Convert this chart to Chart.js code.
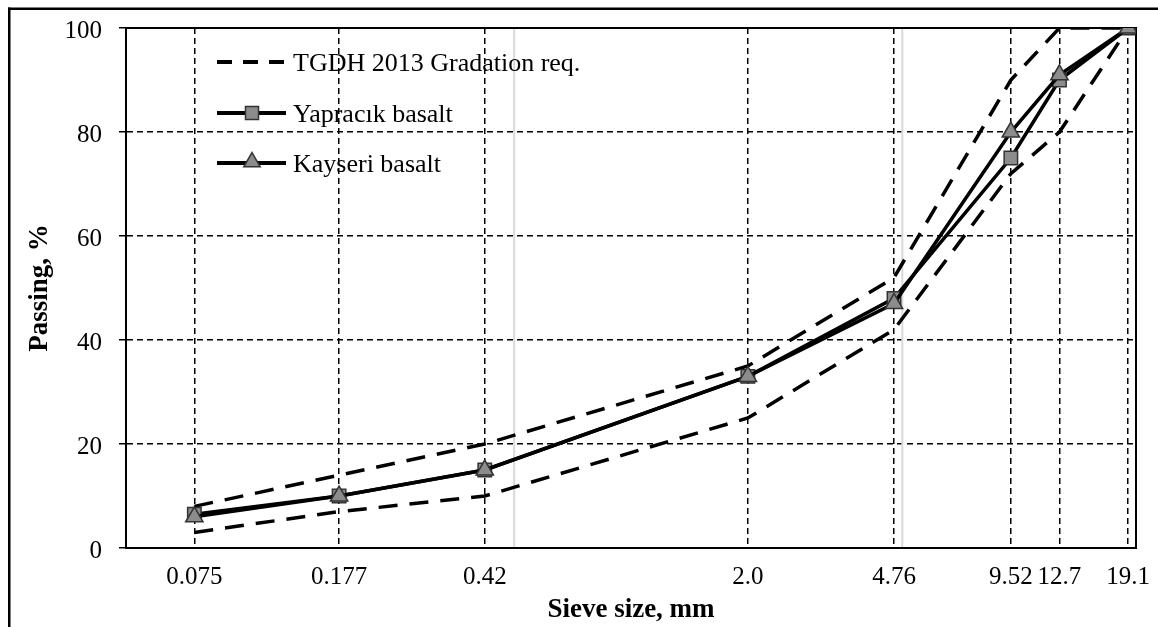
<!DOCTYPE html>
<html>
<head>
<meta charset="utf-8">
<script src="https://cdn.jsdelivr.net/npm/chart.js@4/dist/chart.umd.min.js"></script>
<style>
  html, body { margin: 0; padding: 0; background: #fff; }
  #wrap { width: 1158px; height: 627px; position: relative; }
</style>
</head>
<body>
<div id="wrap"><canvas id="c" width="1158" height="627"></canvas></div>
<script>
// ---- data ----
const sieveSizes  = [0.075, 0.177, 0.42, 2.0, 4.76, 9.52, 12.7, 19.1];
const sieveLabels = ['0.075', '0.177', '0.42', '2.0', '4.76', '9.52', '12.7', '19.1'];
const specUpper   = [8, 14, 20, 35, 52, 90, 100, 100];
const specLower   = [3, 7, 10, 25, 42, 72, 80, 100];
const yapracik    = [6.5, 10, 15, 33, 48, 75, 90, 100];
const kayseri     = [6, 10, 15, 33, 47, 80, 91, 100];
const grayLines   = [0.5, 5];
const legendNames = ['TGDH 2013 Gradation req.', 'Yapracık basalt', 'Kayseri basalt'];

const FONT = "'Liberation Serif', 'Times New Roman', serif";
const MARK_FILL = '#8c8c8c';
const MARK_EDGE = '#333333';

const toXY = arr => arr.map((v, i) => ({ x: sieveSizes[i], y: v }));

function drawSquare(ctx, x, y, s) {
  ctx.beginPath();
  ctx.rect(x - s / 2, y - s / 2, s, s);
  ctx.fillStyle = MARK_FILL; ctx.fill();
  ctx.lineWidth = 1.5; ctx.strokeStyle = MARK_EDGE; ctx.stroke();
}
function drawTriangle(ctx, x, y, r) {
  ctx.beginPath();
  for (let k = 0; k < 3; k++) {
    const a = -Math.PI / 2 + k * 2 * Math.PI / 3;
    const px = x + Math.cos(a) * r, py = y + Math.sin(a) * r;
    if (k === 0) ctx.moveTo(px, py); else ctx.lineTo(px, py);
  }
  ctx.closePath();
  ctx.fillStyle = MARK_FILL; ctx.fill();
  ctx.lineWidth = 1.5; ctx.strokeStyle = MARK_EDGE; ctx.stroke();
}

const decor = {
  id: 'decor',
  beforeDatasetsDraw(chart) {
    const { ctx, chartArea: a, scales } = chart;
    ctx.save();
    ctx.strokeStyle = '#d9d9d9';
    ctx.lineWidth = 2;
    grayLines.forEach(v => {
      const px = scales.x.getPixelForValue(v);
      ctx.beginPath(); ctx.moveTo(px, a.top); ctx.lineTo(px, a.bottom); ctx.stroke();
    });
    ctx.strokeStyle = '#000';
    ctx.lineWidth = 2;
    ctx.strokeRect(a.left, a.top, a.right - a.left, a.bottom - a.top);
    ctx.restore();
  },
  afterDraw(chart) {
    const { ctx } = chart;
    ctx.save();
    ctx.fillStyle = '#000';
    ctx.fillRect(8, 7.5, 1150, 2.5);
    ctx.fillRect(8, 7.5, 2.5, 620);
    const x0 = 217, x1 = 286, tx = 293;
    const ys = [62, 113, 163];
    ctx.strokeStyle = '#000';
    ctx.lineWidth = 4;
    ctx.lineCap = 'butt';
    ys.forEach((y, i) => {
      ctx.setLineDash(i === 0 ? [15, 11] : []);
      ctx.beginPath(); ctx.moveTo(x0, y); ctx.lineTo(x1, y); ctx.stroke();
    });
    ctx.setLineDash([]);
    drawSquare(ctx, 252, ys[1], 13);
    drawTriangle(ctx, 252, ys[2] - 1, 9.5);
    ctx.fillStyle = '#000';
    ctx.font = '26px ' + FONT;
    ctx.textBaseline = 'middle';
    ctx.textAlign = 'left';
    legendNames.forEach((t, i) => ctx.fillText(t, tx, ys[i] + 2));
    ctx.restore();
  }
};

new Chart(document.getElementById('c'), {
  type: 'line',
  data: {
    datasets: [
      { label: legendNames[0] + ' upper', data: toXY(specUpper), borderColor: '#000', borderWidth: 3.5,
        borderDash: [19, 12], pointRadius: 0, fill: false, tension: 0, order: 3 },
      { label: legendNames[0] + ' lower', data: toXY(specLower), borderColor: '#000', borderWidth: 3.5,
        borderDash: [19, 12], pointRadius: 0, fill: false, tension: 0, order: 3 },
      { label: legendNames[1], data: toXY(yapracik), borderColor: '#000', borderWidth: 3.5,
        pointStyle: 'rect', pointRadius: 9.5, pointBackgroundColor: MARK_FILL,
        pointBorderColor: MARK_EDGE, pointBorderWidth: 1.5, fill: false, tension: 0, order: 2 },
      { label: legendNames[2], data: toXY(kayseri), borderColor: '#000', borderWidth: 3.5,
        pointStyle: 'triangle', pointRadius: 10, pointBackgroundColor: MARK_FILL,
        pointBorderColor: MARK_EDGE, pointBorderWidth: 1.5, fill: false, tension: 0, order: 1 }
    ]
  },
  options: {
    responsive: false,
    animation: false,
    devicePixelRatio: 1,
    layout: { padding: { left: 0, top: 28, right: 22, bottom: 0 } },
    plugins: { legend: { display: false }, tooltip: { enabled: false } },
    scales: {
      x: {
        type: 'logarithmic',
        min: 0.05, max: 20,
        afterBuildTicks: s => { s.ticks = sieveSizes.map(v => ({ value: v })); },
        afterFit: s => { s.height = 79; s.paddingLeft = 0; s.paddingRight = 0; },
        ticks: {
          callback: (v, i) => sieveLabels[i],
          autoSkip: false, maxRotation: 0, minRotation: 0,
          padding: 14, color: '#000', font: { family: FONT, size: 25 }
        },
        grid: { color: '#000', lineWidth: 1.5, drawTicks: false },
        border: { display: true, color: '#000', width: 2, dash: [6, 4] },
        title: { display: true, text: 'Sieve size, mm', color: '#000',
                 font: { family: FONT, size: 27, weight: 'bold' }, padding: { top: 0, bottom: 1 } }
      },
      y: {
        type: 'linear',
        min: 0, max: 100,
        afterFit: s => { s.width = 126; s.paddingTop = 0; s.paddingBottom = 0; },
        ticks: { stepSize: 20, padding: 17, labelOffset: 3, color: '#000',
                 font: { family: FONT, size: 25 } },
        grid: { color: '#000', lineWidth: 1.5, drawTicks: true, tickLength: 7,
                tickColor: '#000', tickWidth: 1.5, tickBorderDash: [] },
        border: { display: true, color: '#000', width: 2, dash: [6, 4] },
        title: { display: true, text: 'Passing, %', color: '#000',
                 font: { family: FONT, size: 27, weight: 'bold' }, padding: { top: 24, bottom: 0 } }
      }
    }
  },
  plugins: [decor]
});
</script>
</body>
</html>
